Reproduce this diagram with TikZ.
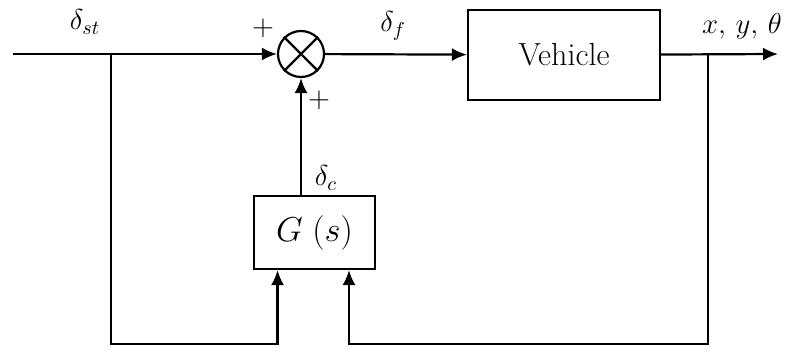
\documentclass[tikz,border=0pt]{standalone}
\usepackage{amsmath}
\usepackage{tikz}
\usetikzlibrary{shapes.geometric, arrows.meta, positioning, calc}
\tikzstyle{block} = [draw, rectangle, line width=1.1pt, font=\fontsize{16}{19}\selectfont, inner sep=0pt]
\tikzstyle{sumnode} = [draw, circle, line width=1.1pt, minimum size=23pt, inner sep=0pt]
\tikzstyle{arrw} = [line width=1.1pt, -{Latex[length=7.5pt, width=6.5pt]}]
\tikzstyle{lbl} = [font=\Large, inner sep=0pt]

\begin{document}
\begin{tikzpicture}[x=0.5pt, y=-0.5pt]
    \useasboundingbox (0,0) rectangle (796,352);

    \node (sum) [sumnode] at (301,54) {};
    \node (veh) [block, minimum width=96pt, minimum height=45pt] at (564,55) {Vehicle};
    \node (g) [block, minimum width=60.5pt, minimum height=36.5pt] at (314.5,232.5) {$G\;(s)$};

    \draw [line width=1.1pt] (sum.north west) -- (sum.south east);
    \draw [line width=1.1pt] (sum.north east) -- (sum.south west);

    \coordinate (in) at (13,54);
    \coordinate (out) at (778,54);
    \coordinate (b1) at (111,54);
    \coordinate (b2) at (708,54);
    \coordinate (low) at (0,344);
    \coordinate (gin1) at ($(g.south west)!0.2!(g.south east)$);
    \coordinate (gin2) at ($(g.south west)!0.78!(g.south east)$);

    \draw [arrw] (in) -- (sum);
    \draw [arrw] (sum) -- (veh);
    \draw [arrw] (veh) -- (out);
    \draw [arrw] (g.north -| sum.south) -- (sum.south);
    \draw [arrw] (b1) |- (low -| gin1) -- (gin1);
    \draw [arrw] (b2) |- (low -| gin2) -- (gin2);

    % labels
    \node (lst) [lbl] at (85,22) {$\delta_{st}$};
    \node (lp1) [lbl] at (263,28) {$+$};
    \node (lf) [lbl] at (393,26) {$\delta_f$};
    \node (lout) [lbl] at (742,26) {$x,\,y,\,\theta$};
    \node (lp2) [lbl] at (319,100) {$+$};
    \node (lc) [lbl] at (326,178) {$\delta_c$};
\end{tikzpicture}
\end{document}
